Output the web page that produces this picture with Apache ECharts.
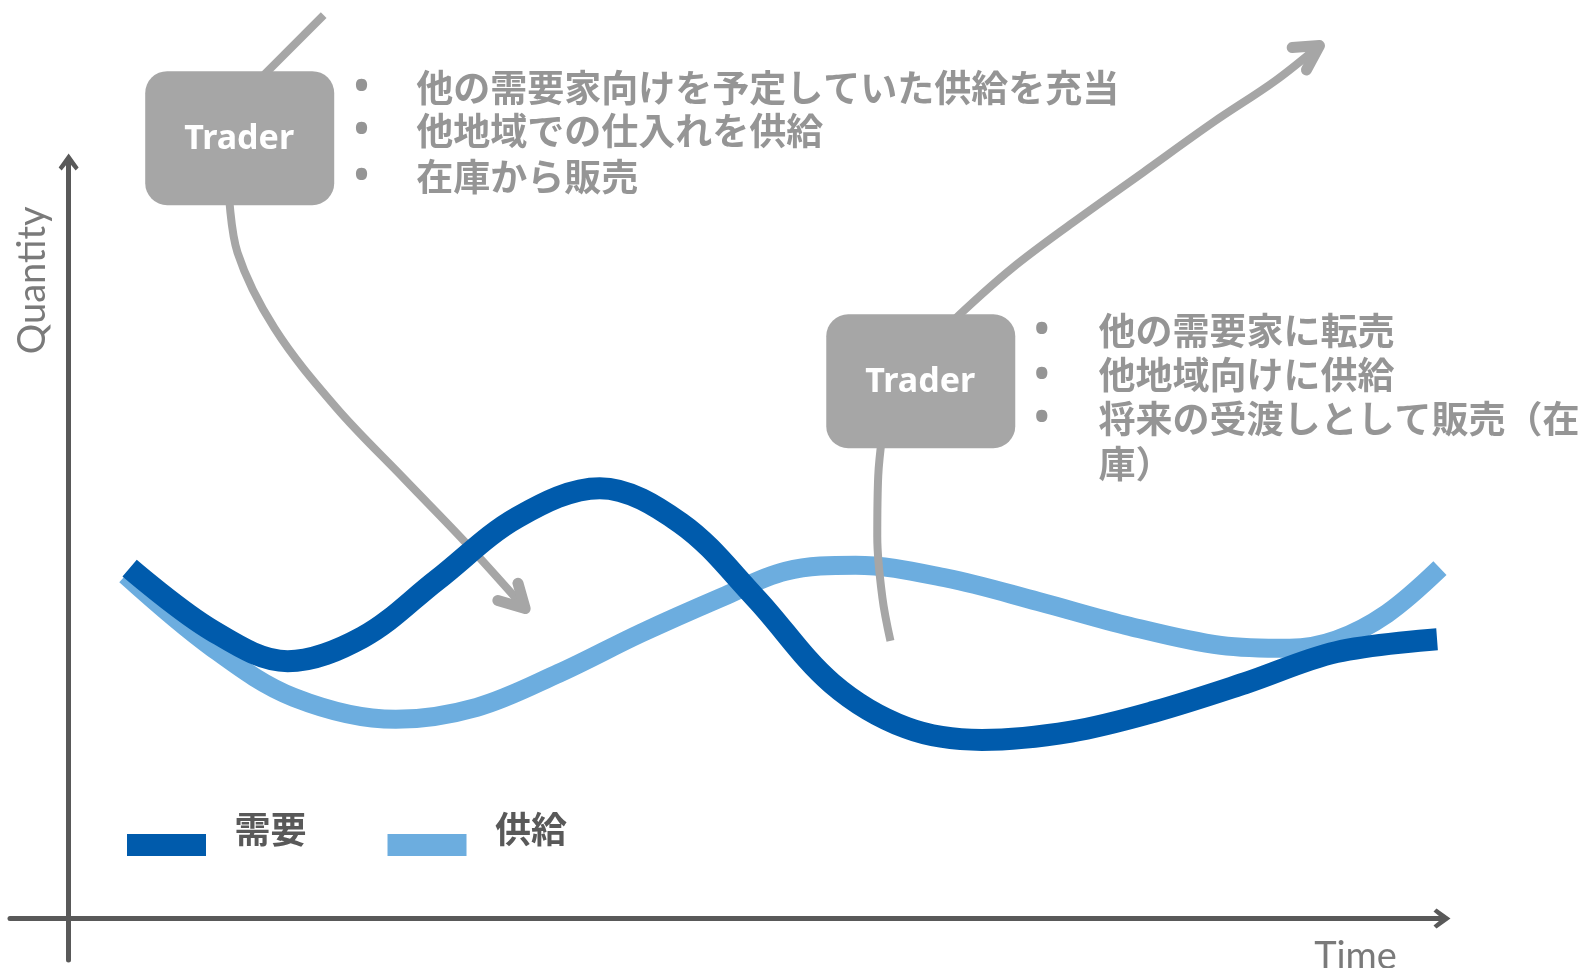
<!DOCTYPE html>
<html><head><meta charset="utf-8">
<script src="https://cdn.jsdelivr.net/npm/echarts@6/dist/echarts.min.js"></script>
<style>html,body{margin:0;padding:0;background:#fff}#c{width:1587px;height:968px}</style>
</head><body><div id="c"></div>
<script>
// ---- data (time units 0..100, quantity units 0..100) ----
const seriesNames = ['需要', '供給'];
const demandX = [4.44, 10.42, 15.95, 21.41, 26.80, 32.70, 38.67, 44.57, 50.0, 55.57, 61.0, 66.5, 73.0, 79.0, 85.65, 92.3, 99.64];
const demandY = [46.30, 38.10, 34.00, 37.17, 44.71, 53.04, 56.88, 52.25, 42.4, 31.08, 25.2, 23.6, 24.7, 27.3, 31.08, 35.2, 36.90];
const supplyX = [4.15, 10.42, 16.39, 23.82, 29.72, 35.69, 41.66, 47.56, 52.2, 57.3, 63.9, 70.6, 77.3, 83.9, 88.9, 92.3, 96.0, 99.85];
const supplyY = [45.37, 35.85, 29.23, 26.32, 27.91, 32.41, 37.70, 42.46, 45.9, 46.7, 45.0, 41.9, 38.6, 36.1, 35.7, 36.8, 40.3, 46.30];

// trader flow arrows (annotation paths)
const arrow1TopX = [18.57, 13.78];
const arrow1TopY = [119.41, 110.71];
const arrow1X = [11.64, 12.3, 15.0, 19.5, 24.5, 29.0, 33.24];
const arrow1Y = [96.65, 88.0, 78.0, 67.5, 58.0, 49.5, 40.96];
const head1X = [31.25, 33.24, 32.72];
const head1Y = [42.03, 40.96, 44.31];
const arrow2LowX = [59.84, 59.25, 58.88, 58.95, 59.25];
const arrow2LowY = [36.68, 42.44, 50.47, 58.50, 64.0];
const arrow2X = [63.52, 64.85, 68.68, 73.10, 78.26, 83.42, 87.84, 91.08];
const arrow2Y = [77.24, 79.79, 85.94, 91.97, 98.66, 105.35, 110.71, 115.39];
const head2X = [89.09, 91.08, 90.13];
const head2Y = [115.13, 115.39, 112.18];

// trader boxes
const boxLabel = 'Trader';
const boxX = [12.42, 62.01];
const boxY = [103.15, 71.02];

// notes
const notes1 = ['他の需要家向けを予定していた供給を充当', '他地域での仕入れを供給', '在庫から販売'];
const notes1Y = [109.77, 104.02, 98.0];
const notes1TextX = 25.35, notes1BulletX = 21.37;
const notes2 = ['他の需要家に転売', '他地域向けに供給', '将来の受渡しとして販売（在', '庫）'];
const notes2Y = [77.64, 71.75, 66.0, 59.97];
const notes2Bullets = [true, true, true, false];
const notes2TextX = 75.02, notes2BulletX = 70.89;

const axisNames = ['Quantity', 'Time'];

// ---- build ----
const zip = (xs, ys) => xs.map((x, i) => [x, ys[i]]);
const GRAY = '#A6A6A6';
const chev = 'path://M0,14 L10,0 L20,14 L17,17 L10,8.5 L3,17 Z';
const jpFont = '"Noto Sans CJK JP", sans-serif';
// legend swatch: bar in lower part of a taller box, with blank space on the right
const legendIcon = 'path://M0,0 L0.01,0 L0,0.01 Z M102,0 L102.01,0 L102,0.01 Z M0,32 L79,32 L79,54 L0,54 Z';

const bulletLabel = { formatter: '•', align: 'center', fontFamily: '"Noto Sans", sans-serif', fontSize: 40 };
const textData = [];
notes1.forEach((t, i) => {
  textData.push({ value: [notes1TextX, notes1Y[i]], label: { formatter: t } });
  textData.push({ value: [notes1BulletX, notes1Y[i]], label: bulletLabel });
});
notes2.forEach((t, i) => {
  textData.push({ value: [notes2TextX, notes2Y[i]], label: { formatter: t } });
  if (notes2Bullets[i]) textData.push({ value: [notes2BulletX, notes2Y[i]], label: bulletLabel });
});

const arrowLine = (data, w, smooth, cap) => ({
  type: 'line', data, showSymbol: false, symbol: 'none', smooth: smooth, clip: false, silent: true, z: 2,
  lineStyle: { color: GRAY, width: w, cap: cap || 'butt', join: 'round' }
});

const chart = echarts.init(document.getElementById('c'), null, { renderer: 'canvas' });
chart.setOption({
  animation: false,
  backgroundColor: '#ffffff',
  grid: { left: 10, right: 145, top: 162, bottom: 8 },
  xAxis: {
    type: 'value', min: -4.27, max: 100,
    axisLine: { onZero: true, lineStyle: { color: '#595959', width: 5 }, symbol: ['none', chev], symbolSize: [20, 17] },
    axisTick: { show: false }, axisLabel: { show: false }, splitLine: { show: false }
  },
  yAxis: {
    type: 'value', min: -5.5, max: 100,
    axisLine: { onZero: true, lineStyle: { color: '#595959', width: 5 }, symbol: ['none', chev], symbolSize: [20, 17] },
    axisTick: { show: false }, axisLabel: { show: false }, splitLine: { show: false }
  },
  legend: {
    data: seriesNames, left: 127, top: 802, padding: 0, icon: legendIcon, itemWidth: 103, itemHeight: 54, itemGap: 81,
    textStyle: { fontSize: 36, fontWeight: 'bold', color: '#595959', fontFamily: jpFont }
  },
  series: [
    {
      name: seriesNames[1], type: 'line', data: zip(supplyX, supplyY), smooth: 0.35, showSymbol: false, symbol: 'none', clip: false, z: 1,
      itemStyle: { color: '#6CADDF' }, lineStyle: { color: '#6CADDF', width: 19, cap: 'butt' }
    },
    arrowLine(zip(arrow1TopX, arrow1TopY), 8, false),
    arrowLine(zip(arrow1X, arrow1Y), 8, 0.35),
    arrowLine(zip(arrow2LowX, arrow2LowY), 8, 0.35),
    arrowLine(zip(arrow2X, arrow2Y), 8, 0.35),
    arrowLine(zip(head1X, head1Y), 11, false, 'round'),
    arrowLine(zip(head2X, head2Y), 11, false, 'round'),
    {
      name: seriesNames[0], type: 'line', data: zip(demandX, demandY), smooth: 0.35, showSymbol: false, symbol: 'none', clip: false, z: 3,
      itemStyle: { color: '#005BAC' }, lineStyle: { color: '#005BAC', width: 22, cap: 'butt' }
    },
    {
      type: 'custom', data: zip(boxX, boxY), clip: false, silent: true, z: 10,
      renderItem: (params, api) => {
        const p = api.coord([api.value(0), api.value(1)]);
        return {
          type: 'group', children: [
            { type: 'rect', z2: 1, shape: { x: p[0] - 94, y: p[1] - 67, width: 189, height: 134, r: 22 }, style: { fill: GRAY } },
            { type: 'text', z2: 2, style: { text: boxLabel, x: p[0], y: p[1] + 1, align: 'center', verticalAlign: 'middle', fill: '#ffffff', font: 'bold 34px "Noto Sans", sans-serif' } }
          ]
        };
      }
    },
    {
      type: 'scatter', data: textData, symbolSize: 1, clip: false, silent: true, z: 11,
      itemStyle: { color: 'rgba(0,0,0,0)' },
      label: { show: true, position: [0, 0], align: 'left', verticalAlign: 'middle', color: '#7A7A7A', fontSize: 37, fontWeight: 'bold', fontFamily: jpFont }
    },
    {
      type: 'scatter', symbolSize: 1, clip: false, silent: true, z: 11, itemStyle: { color: 'rgba(0,0,0,0)' },
      data: [
        { value: [-2.58, 84.3], label: { formatter: axisNames[0], rotate: 90 } },
        { value: [93.74, -5.2], label: { formatter: axisNames[1] } }
      ],
      label: { show: true, position: [0, 0], align: 'center', verticalAlign: 'middle', color: '#595959', fontSize: 38, fontFamily: 'Lato, sans-serif' }
    }
  ]
});
</script></body></html>
